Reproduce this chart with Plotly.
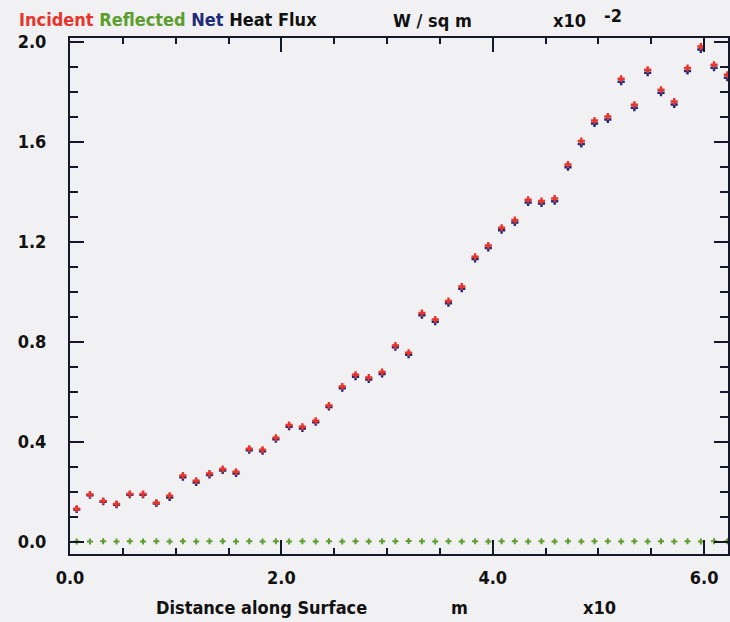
import plotly.graph_objects as go

# distance along surface (x10 m)
distance = [0.063, 0.189, 0.314, 0.440, 0.566, 0.691, 0.817, 0.943, 1.068, 1.194,
            1.320, 1.445, 1.571, 1.696, 1.822, 1.948, 2.073, 2.199, 2.325, 2.450,
            2.576, 2.702, 2.827, 2.953, 3.079, 3.204, 3.330, 3.456, 3.581, 3.707,
            3.833, 3.958, 4.084, 4.209, 4.335, 4.461, 4.586, 4.712, 4.838, 4.963,
            5.089, 5.215, 5.340, 5.466, 5.592, 5.717, 5.843, 5.969, 6.094, 6.220]

# heat flux (x10^-2 W/sq m)
incident = [0.131, 0.188, 0.162, 0.150, 0.190, 0.190, 0.155, 0.183, 0.264, 0.243,
            0.272, 0.290, 0.279, 0.371, 0.367, 0.415, 0.466, 0.459, 0.483, 0.544,
            0.620, 0.667, 0.656, 0.678, 0.784, 0.755, 0.914, 0.888, 0.962, 1.020,
            1.139, 1.184, 1.255, 1.286, 1.367, 1.362, 1.372, 1.508, 1.602, 1.684,
            1.700, 1.851, 1.747, 1.887, 1.807, 1.760, 1.894, 1.980, 1.907, 1.867]

net = [0.128, 0.185, 0.159, 0.147, 0.187, 0.187, 0.152, 0.176, 0.257, 0.236,
       0.266, 0.284, 0.272, 0.365, 0.361, 0.409, 0.459, 0.452, 0.477, 0.538,
       0.613, 0.659, 0.648, 0.670, 0.777, 0.747, 0.905, 0.879, 0.953, 1.011,
       1.130, 1.174, 1.245, 1.276, 1.356, 1.352, 1.361, 1.497, 1.590, 1.672,
       1.688, 1.839, 1.735, 1.875, 1.795, 1.748, 1.882, 1.968, 1.895, 1.855]

reflected = [0.000, 0.000, 0.001, 0.000, 0.001, 0.000, 0.001, 0.000, 0.001, 0.000,
             0.001, 0.001, 0.000, 0.001, 0.000, 0.001, 0.000, 0.001, 0.000, 0.001,
             0.000, 0.001, 0.000, 0.001, 0.001, 0.002, 0.001, 0.000, 0.001, 0.000,
             0.001, 0.000, 0.001, 0.001, 0.000, 0.001, 0.000, 0.001, 0.000, 0.001,
             0.001, 0.000, 0.001, 0.000, 0.001, 0.000, 0.001, 0.000, 0.001, 0.001]

RED = "#e8352b"
GREEN = "#5c9e2e"
BLUE = "#1f2a78"
AXIS = "#15182a"
BG = "#f1f1f3"
FONT = "DejaVu Sans Condensed"

fig = go.Figure()
fig.add_trace(go.Scatter(x=distance, y=reflected, mode="markers", cliponaxis=False,
                         marker=dict(symbol="cross", size=5, color=GREEN)))
fig.add_trace(go.Scatter(x=distance, y=net, mode="markers", cliponaxis=False,
                         marker=dict(symbol="cross", size=6, color=BLUE)))
fig.add_trace(go.Scatter(x=distance, y=incident, mode="markers", cliponaxis=False,
                         marker=dict(symbol="cross", size=6, color=RED)))

L, T, B = 70, 38, 68
W, H = 730, 622
ph = H - T - B


def py(p):
    return (H - B - p) / ph


def px(p):
    return (p - L) / (W - L)


tfont = dict(family=FONT, size=18, color="#111111", weight="bold")
ann = [
    dict(x=px(17), y=py(20), xanchor="left", yanchor="middle",
         text=f"<span style='color:{RED}'>Incident</span> "
              f"<span style='color:{GREEN}'>Reflected</span> "
              f"<span style='color:{BLUE}'>Net</span> Heat Flux"),
    dict(x=px(434), y=py(21), xanchor="center", yanchor="middle", text="W / sq m"),
    dict(x=px(571), y=py(21), xanchor="center", yanchor="middle", text="x10"),
    dict(x=px(615), y=py(16), xanchor="center", yanchor="middle", text="-2"),
    dict(x=px(262), y=py(607), xanchor="center", yanchor="middle", text="Distance along Surface"),
    dict(x=px(461), y=py(607), xanchor="center", yanchor="middle", text="m"),
    dict(x=px(601), y=py(607), xanchor="center", yanchor="middle", text="x10"),
]
for a in ann:
    a.update(xref="paper", yref="paper", showarrow=False, font=tfont)

fig.update_layout(
    width=W, height=H, autosize=False,
    margin=dict(l=L, r=0, t=T, b=B, pad=0),
    paper_bgcolor=BG, plot_bgcolor=BG,
    showlegend=False,
    annotations=ann,
    xaxis=dict(range=[0, 6.226], showgrid=False, zeroline=False,
               showline=True, linecolor=AXIS, linewidth=2, mirror="ticks",
               ticks="inside", ticklen=14, tickwidth=2, tickcolor=AXIS,
               tick0=0, dtick=2, tickformat=".1f", ticklabelstandoff=6,
               tickfont=dict(family=FONT, size=18, color="#111111", weight="bold"),
               minor=dict(dtick=0.5, ticks="inside", ticklen=6, tickwidth=2, tickcolor=AXIS)),
    yaxis=dict(range=[-0.05, 2.014], showgrid=False, zeroline=False,
               showline=True, linecolor=AXIS, linewidth=2, mirror="ticks",
               ticks="inside", ticklen=14, tickwidth=2, tickcolor=AXIS,
               tick0=0, dtick=0.4, tickformat=".1f", ticklabelstandoff=18,
               tickfont=dict(family=FONT, size=18, color="#111111", weight="bold"),
               minor=dict(dtick=0.1, ticks="inside", ticklen=8, tickwidth=2, tickcolor=AXIS)),
)

fig.write_html("out.html")
